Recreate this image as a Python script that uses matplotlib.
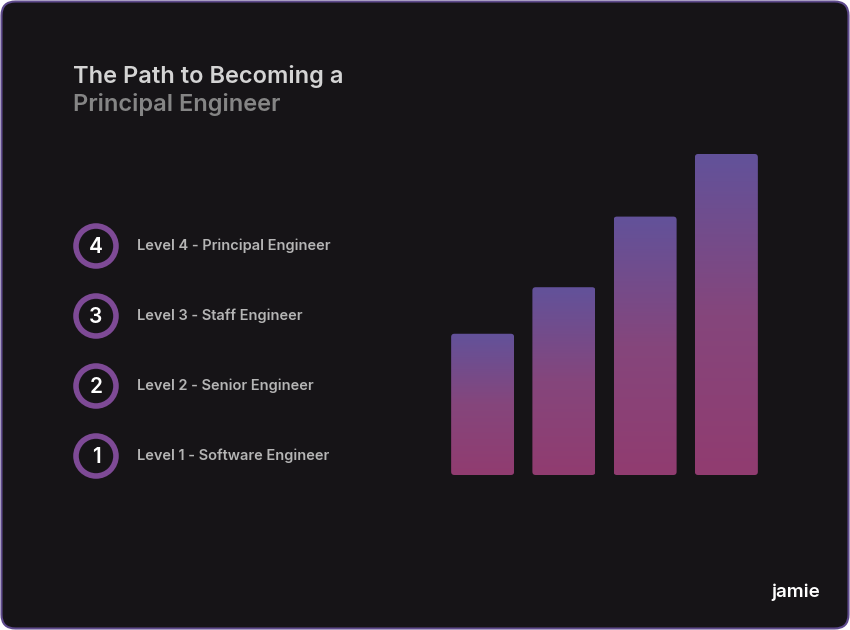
import numpy as np
import matplotlib
matplotlib.use("Agg")
import matplotlib.pyplot as plt
from matplotlib.patches import FancyBboxPatch, Circle
from matplotlib.colors import LinearSegmentedColormap

plt.rcParams['font.family'] = ['Inter', 'DejaVu Sans']

# data
levels = [1, 2, 3, 4]
level_labels = ["Level 1 - Software Engineer", "Level 2 - Senior Engineer",
                "Level 3 - Staff Engineer", "Level 4 - Principal Engineer"]
bar_values = [44, 58.5, 80.5, 100]

W, H = 850, 630
fig = plt.figure(figsize=(W / 100, H / 100), dpi=100, facecolor="white")

# background card, pixel coordinates
bg = fig.add_axes([0, 0, 1, 1])
bg.set_xlim(0, W)
bg.set_ylim(H, 0)
bg.axis("off")
card = FancyBboxPatch((1.5, 1.5), W - 3, H - 3, boxstyle="round,pad=0,rounding_size=14",
                      facecolor="#161417", edgecolor="#5e4a8c", linewidth=1.5)
bg.add_patch(card)

bg.text(73, 77, "The Path to Becoming a", color="#d4d4d4", fontsize=17,
        fontweight="semibold", va="center", ha="left")
bg.text(73, 105, "Principal Engineer", color="#858585", fontsize=17,
        fontweight="semibold", va="center", ha="left")

ys = {4: 246, 3: 316, 2: 386, 1: 456}
for lvl, lab in zip(levels, level_labels):
    y = ys[lvl]
    bg.add_patch(Circle((96, y), 20, facecolor="#161417", edgecolor="#7e4a96", linewidth=4))
    bg.text(96, y + 1, str(lvl), color="white", fontsize=15, ha="center", va="center",
            fontweight="semibold")
    bg.text(137, y, lab, color="#b5b5b5", fontsize=10.5, ha="left", va="center",
            fontweight="semibold")

bg.text(796, 592, "jamie", color="white", fontsize=13.5, ha="center", va="center",
        fontweight="semibold")

# bars
ax = fig.add_axes([442 / W, (H - 475) / H, 325 / W, 321 / H])
ax.axis("off")
cmap = LinearSegmentedColormap.from_list("g", ["#913c70", "#85467c", "#62529a"])
grad = np.linspace(0, 1, 256).reshape(-1, 1)
bw = 0.775
for i, v in enumerate(bar_values):
    patch = FancyBboxPatch((i - bw / 2, 0), bw, v, boxstyle="round,pad=0,rounding_size=0.04",
                           facecolor="none", edgecolor="none", mutation_aspect=100 / 4 * 325 / 321)
    ax.add_patch(patch)
    im = ax.imshow(grad, cmap=cmap, extent=(i - bw / 2, i + bw / 2, 0, v),
                   origin="lower", aspect="auto", vmin=0, vmax=1)
    im.set_clip_path(patch)
ax.set_xlim(-0.5, 3.5)
ax.set_ylim(0, 100)

fig.savefig("out.png", dpi=100, facecolor="white")
